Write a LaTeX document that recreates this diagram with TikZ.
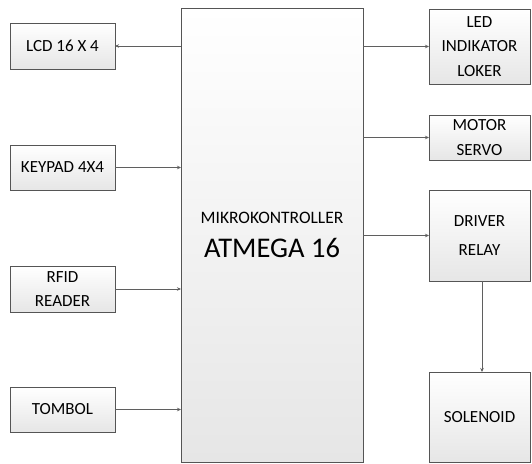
\documentclass[tikz,border=0pt]{standalone}
\usepackage{fontspec}
\setmainfont{Carlito}
\usetikzlibrary{arrows.meta}
\definecolor{boxline}{RGB}{85,85,85}
\definecolor{arrowcol}{RGB}{95,95,95}
\definecolor{shadebot}{RGB}{230,230,230}
\tikzset{
  blk/.style={draw=boxline, line width=0.8pt, top color=white, bottom color=shadebot,
    align=center, inner sep=0pt, outer sep=0pt, text=black,
    font=\fontsize{17}{24.5}\selectfont},
  conn/.style={draw=arrowcol, line width=0.7pt, -{Stealth[length=4pt,width=3.5pt]}}
}
\begin{document}
\begin{tikzpicture}[x=1pt,y=-1pt]
\useasboundingbox (0,0) rectangle (532,463);
\node[blk, minimum width=182, minimum height=454] (main) at (272,235)
  {{\fontsize{17.5}{20}\selectfont MIKROKONTROLLER}\\[9pt]{\fontsize{28.5}{30}\selectfont ATMEGA 16}};
\node[blk, minimum width=105, minimum height=46] (lcd) at (62.5,46) {LCD 16 X 4};
\node[blk, minimum width=105, minimum height=45] (key) at (62.5,167.5) {KEYPAD 4X4};
\node[blk, minimum width=105, minimum height=46] (rfid) at (62.5,289) {RFID\\READER};
\node[blk, minimum width=105, minimum height=45] (tom) at (62.5,409.5) {TOMBOL};
\node[blk, minimum width=101, minimum height=75] (led) at (479.5,46.5) {LED\\INDIKATOR\\LOKER};
\node[blk, minimum width=101, minimum height=45] (mot) at (479.5,137.5) {MOTOR\\SERVO};
\node[blk, minimum width=101, minimum height=91] (drv) at (479.5,235.5) {DRIVER\\[4pt]RELAY};
\node[blk, minimum width=101, minimum height=90] (sol) at (479.5,417) {SOLENOID};
\draw[conn] (main.west |- lcd.east) -- (lcd.east);
\draw[conn] (key.east) -- (main.west |- key.east);
\draw[conn] (rfid.east) -- (main.west |- rfid.east);
\draw[conn] (tom.east) -- (main.west |- tom.east);
\draw[conn] (main.east |- led.west) -- (led.west);
\draw[conn] (main.east |- mot.west) -- (mot.west);
\draw[conn] (main.east |- drv.west) -- (drv.west);
\draw[conn] ([xshift=2.5pt]drv.south) -- ([xshift=2.5pt]sol.north);
\end{tikzpicture}
\end{document}
